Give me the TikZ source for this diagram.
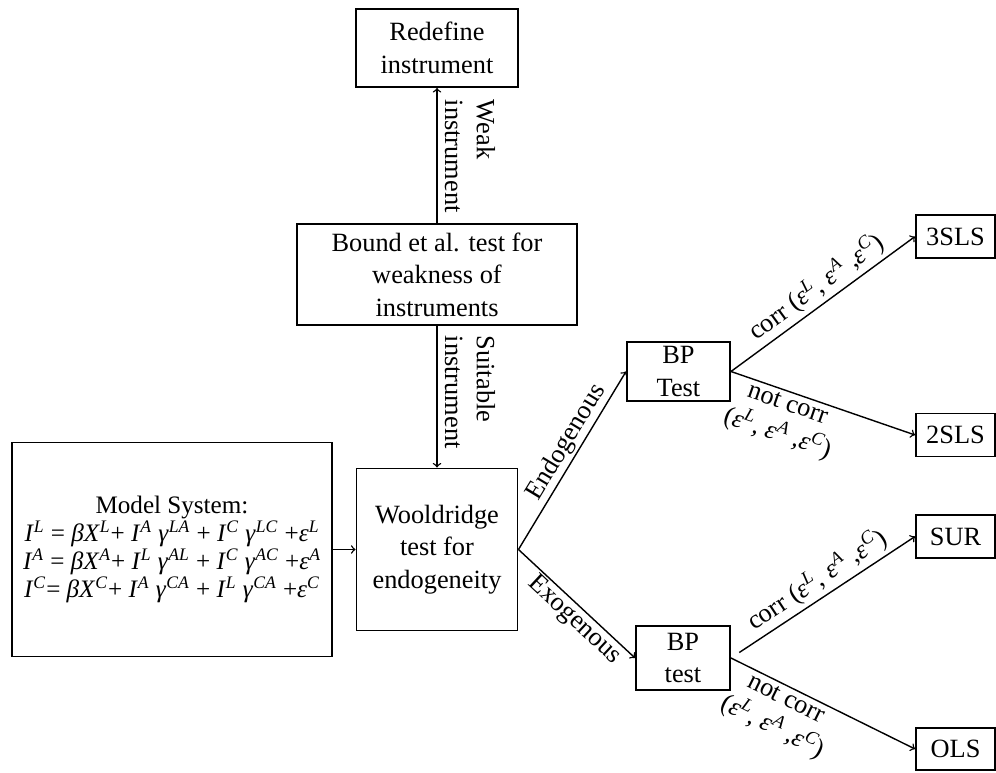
\documentclass[tikz,border=0pt]{standalone}
\usepackage{fontspec}
\setmainfont{Liberation Serif}
\usepackage{tikz}
\usetikzlibrary{arrows, positioning, calc}

\newcommand{\sv}[2]{\textit{#1}\textsuperscript{\textit{#2}}}

\begin{document}
\begin{tikzpicture}[box/.style={rectangle, draw, line width=1.1pt, align=center, inner sep=2pt, font=\fontsize{15}{18.5}\selectfont}, lbl/.style={font=\fontsize{15}{18}\selectfont, align=center, inner sep=2pt}, arr/.style={->, line width=0.8pt}]

\useasboundingbox (0,0) rectangle (19.92,15.44);

% Instrument tests
\node[box, minimum width=3.24cm, minimum height=1.56cm] (redef) at (8.74,14.48) {Redefine\\instrument};
\node[box, minimum width=5.6cm, minimum height=2.02cm] (bound) at (8.74,9.95) {Bound et al. test for\\weakness of\\instruments};
\node[box, minimum width=3.22cm, minimum height=3.24cm] (wool) at (8.74,4.45) {Wooldridge\\test for\\endogeneity};

% Model
\node[box, minimum width=6.4cm, minimum height=4.28cm, font=\fontsize{14.3}{16}\selectfont] (model) at (3.44,4.45) {Model System:\\
\sv{I}{L} = \textit{β}\sv{X}{L}+ \sv{I}{A} \sv{γ}{LA} + \sv{I}{C} \sv{γ}{LC} +\sv{ε}{L}\\
\sv{I}{A} = \textit{β}\sv{X}{A}+ \sv{I}{L} \sv{γ}{AL} + \sv{I}{C} \sv{γ}{AC} +\sv{ε}{A}\\
\sv{I}{C}= \textit{β}\sv{X}{C}+ \sv{I}{A} \sv{γ}{CA} + \sv{I}{L} \sv{γ}{CA} +\sv{ε}{C}};

% BP tests and estimators
\node[box, minimum width=2.06cm, minimum height=1.18cm] (bp1) at (13.57,8.01) {BP\\Test};
\node[box, minimum width=1.88cm, minimum height=1.28cm] (bp2) at (13.66,2.28) {BP\\test};
\node[box, minimum width=1.58cm, minimum height=0.86cm] (sls3) at (19.11,10.71) {3SLS};
\node[box, minimum width=1.58cm, minimum height=0.86cm] (sls2) at (19.11,6.74) {2SLS};
\node[box, minimum width=1.58cm, minimum height=0.86cm] (sur) at (19.11,4.71) {SUR};
\node[box, minimum width=1.58cm, minimum height=0.84cm] (ols) at (19.11,0.46) {OLS};

\draw[arr] (model) -- (wool);
\draw[arr] (bound) -- (redef);
\draw[arr] (bound) -- (wool);
\node[lbl, rotate=-90, anchor=south west, align=left] (weak) at ($(redef.south)+(0.08,-0.16)$) {Weak\\instrument};
\node[lbl, rotate=-90, anchor=south west, align=left] (suit) at ($(bound.south)+(0.08,-0.12)$) {Suitable\\instrument};

\draw[arr] (wool.east) -- node[lbl, sloped, above, pos=0.56, inner sep=1pt] {Endogenous} (bp1.west);
\draw[arr] (wool.east) -- node[lbl, sloped, below, pos=0.56, inner sep=1pt] {Exogenous} (bp2.west);

\draw[arr] (bp1.east) -- node[lbl, sloped, above, pos=0.52] {corr (\sv{ε}{L}, \sv{ε}{A} ,\sv{ε}{C})} (sls3.west);
\draw[arr] (bp1.east) -- node[lbl, sloped, below, pos=0.33] {not corr\\(\sv{ε}{L}, \sv{ε}{A} ,\sv{ε}{C})} (sls2.west);
\draw[arr, shorten <=0.2cm] (bp2.east) -- node[lbl, sloped, above, pos=0.52] {corr (\sv{ε}{L}, \sv{ε}{A} ,\sv{ε}{C})} (sur.west);
\draw[arr] (bp2.east) -- node[lbl, sloped, below, pos=0.33] {not corr\\(\sv{ε}{L}, \sv{ε}{A} ,\sv{ε}{C})} (ols.west);

\end{tikzpicture}
\end{document}
